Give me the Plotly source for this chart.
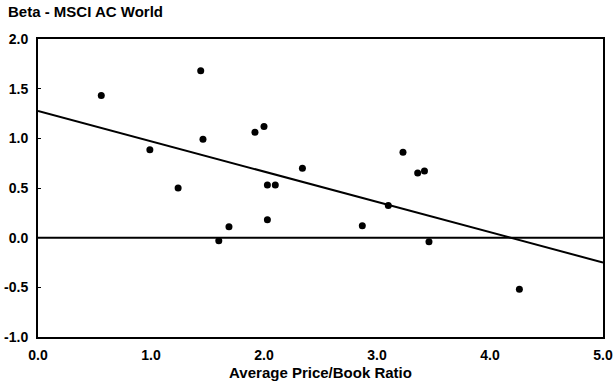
import numpy as np
import plotly.graph_objects as go

# Average price/book ratio vs. beta against the MSCI AC World index
price_book = [0.56, 1.44, 0.99, 1.46, 1.24, 1.92, 2.00, 2.03, 2.10, 2.03,
              1.69, 1.60, 2.34, 3.23, 3.36, 3.42, 3.10, 2.87, 3.46, 4.26]
beta = [1.43, 1.68, 0.885, 0.99, 0.50, 1.06, 1.12, 0.53, 0.53, 0.18,
        0.11, -0.03, 0.70, 0.86, 0.65, 0.67, 0.325, 0.12, -0.04, -0.52]

x_ticks = [0, 1, 2, 3, 4, 5]
x_tick_labels = ["0.0", "1.0", "2.0", "3.0", "4.0", "5.0"]
y_ticks = [-1.0, -0.5, 0.0, 0.5, 1.0, 1.5, 2.0]
y_tick_labels = ["-1.0", "-0.5", "0.0", "0.5", "1.0", "1.5", "2.0"]

# Least-squares trend line across the full x range
slope, intercept = np.polyfit(price_book, beta, 1)
fit_x = np.array([0.0, 5.0])
fit_y = intercept + slope * fit_x

FONT = "Liberation Sans, Arial, sans-serif"

fig = go.Figure()

# zero reference line
fig.add_trace(go.Scatter(x=[0, 5], y=[0, 0], mode="lines",
                         line=dict(color="black", width=2),
                         hoverinfo="skip", showlegend=False))
# regression line
fig.add_trace(go.Scatter(x=fit_x, y=fit_y, mode="lines",
                         line=dict(color="black", width=2),
                         showlegend=False))
# observations
fig.add_trace(go.Scatter(x=price_book, y=beta, mode="markers",
                         marker=dict(color="black", size=7),
                         showlegend=False))

fig.update_layout(
    width=615, height=384,
    margin=dict(l=38, r=12, t=39, b=47),
    paper_bgcolor="white", plot_bgcolor="white",
    font=dict(family=FONT, color="black"),
    annotations=[
        dict(text="<b>Beta - MSCI AC World</b>", xref="paper", yref="paper",
             x=-32 / 565, y=1.0, xanchor="left", yanchor="bottom", yshift=17,
             showarrow=False, font=dict(size=15, family=FONT)),
    ],
)

fig.update_xaxes(
    range=[0, 5], tickvals=x_ticks, ticktext=["<b>%s</b>" % t for t in x_tick_labels],
    showgrid=False, zeroline=False, showline=True, linecolor="black", linewidth=2,
    mirror=True, ticks="", ticklabelstandoff=4, automargin=False,
    tickfont=dict(size=14, family=FONT),
    title=dict(text="<b>Average Price/Book Ratio</b>", standoff=6,
               font=dict(size=15, family=FONT)),
)
fig.update_yaxes(
    range=[-1, 2], tickvals=y_ticks, ticktext=["<b>%s</b>" % t for t in y_tick_labels],
    showgrid=False, zeroline=False, showline=True, linecolor="black", linewidth=2,
    mirror=True, ticks="inside", ticklen=3, tickwidth=1, tickcolor="black",
    ticklabelstandoff=5, automargin=False,
    tickfont=dict(size=14, family=FONT),
)

fig.write_html("out.html")
